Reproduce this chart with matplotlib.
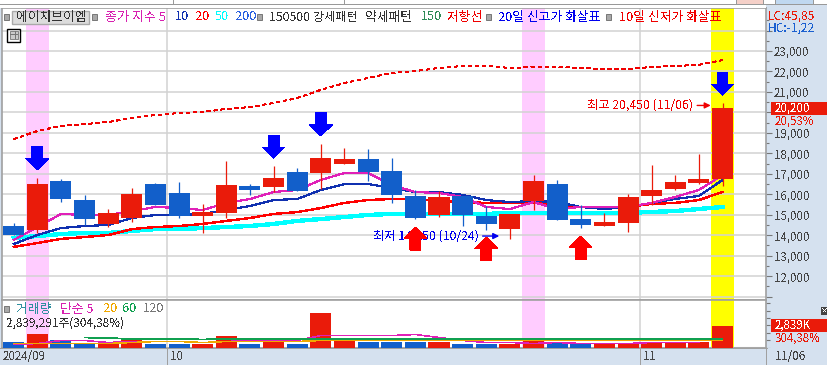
import numpy as np
import matplotlib
matplotlib.use('Agg')
import matplotlib.pyplot as plt
from matplotlib.patches import Rectangle

plt.rcParams['font.family'] = ['Noto Sans CJK KR', 'DejaVu Sans']
plt.rcParams['text.antialiased'] = False

# daily candles
opens = [14450, 14260, 16650, 15720, 14550, 14840, 16500, 16060, 14940, 15090, 16400, 16360, 17090, 17040, 17480, 17720,
         17140, 15920, 14990, 15920, 14940, 14300, 15670, 16500, 14790, 14450, 14600, 15920, 16260, 16550, 16750]
highs = [14600, 16810, 16750, 15970, 15280, 16310, 16550, 16600, 15530, 17630, 16500, 17380, 17290, 18460, 18260, 18210,
         17770, 16210, 16160, 15920, 15430, 15040, 16940, 16700, 15480, 15090, 16020, 17430, 16940, 17970, 20450]
lows = [14010, 14100, 15620, 14500, 14400, 14650, 15480, 14840, 14110, 14840, 15970, 16110, 16160, 16260, 17480, 16650,
        15580, 14790, 14890, 14450, 14250, 13820, 15230, 14740, 14350, 14450, 14160, 15480, 16210, 16500, 16400]
closes = [14010, 16500, 15770, 14790, 15090, 16020, 15480, 14940, 15130, 16450, 16210, 16800, 16160, 17770, 17720, 17090,
          15970, 14840, 15870, 14990, 14550, 15040, 16650, 14740, 14500, 14650, 15870, 16210, 16600, 16750, 20200]

ma5 = [13770, 14400, 15040, 14990, 14990, 15180, 15380, 15330, 15230, 15580, 15770, 16110, 16210, 16700, 17040, 17040,
       16450, 16110, 16060, 15870, 15380, 15280, 15620, 15280, 15380, 15380, 15380, 15580, 15870, 16210, 16940]
ma10 = [13570, 14010, 14350, 14450, 14500, 14840, 14990, 14990, 15040, 15230, 15430, 15720, 15770, 16210, 16500, 16500,
        16310, 16110, 16110, 15970, 15720, 15620, 15670, 15620, 15380, 15280, 15380, 15580, 15770, 15920, 16700]
ma20 = [13430, 13620, 13820, 13910, 14010, 14300, 14400, 14450, 14550, 14700, 14840, 15040, 15130, 15330, 15580, 15720,
        15770, 15770, 15670, 15620, 15580, 15580, 15580, 15480, 15380, 15380, 15380, 15530, 15580, 15720, 16110]
ma50 = [13870, 13960, 14060, 14110, 14110, 14210, 14300, 14300, 14350, 14400, 14450, 14550, 14700, 14790, 14890, 14990,
        15040, 15040, 15040, 15040, 15040, 15090, 15090, 15090, 15090, 15090, 15090, 15140, 15180, 15280, 15380]
resist150 = [18700, 19090, 19340, 19430, 19530, 19730, 19870, 19970, 20020, 20170, 20260, 20460, 20700, 21100, 21440,
             21680, 21930, 22020, 22170, 22270, 22270, 22170, 22220, 22220, 22170, 22120, 22120, 22220, 22270, 22320, 22560]

# volume, thousands of shares
volume = [680, 1890, 950, 540, 410, 950, 540, 540, 540, 1620, 410, 680, 540, 4600, 1350, 810,
          810, 680, 680, 540, 410, 410, 1350, 810, 410, 410, 540, 810, 680, 810, 2839]
vol5 = [405, 540, 945, 945, 675, 810, 810, 810, 675, 810, 945, 945, 945, 1620, 1620, 1620,
        1620, 1755, 1350, 945, 675, 675, 540, 675, 540, 540, 540, 675, 675, 675]
vol20 = [540, 540, 540, 540, 540, 675, 810, 810, 675, 810, 810, 810, 810, 945, 945, 945,
         945, 945, 945, 945, 945, 945, 945, 945, 945, 945, 945, 945, 945, 945, 1000]
vol60 = [1350, 1280, 1150, 1150, 1150, 1080, 1150, 1150, 1150, 1150, 1150, 1150, 1150, 1150, 1150, 1150,
         1150, 1150, 1150, 1150, 1150, 1150, 1150, 1150, 1150, 1150, 1150, 1150]

price_ticks = list(range(11000, 25000, 1000))
price_labels = ['' if p in (11000, 20000, 24000) else f'{p:,}' for p in price_ticks]
pink_days = [1, 22]
yellow_days = [30]
sell_arrows = [(1, 17190), (11, 17770), (13, 18850), (30, 20850)]
buy_arrows = [(17, 14400), (20, 13910), (24, 13960)]
month_breaks = [6.5, 26.5]

RED = '#ea1b0a'
BLUE = '#125fca'
GRID = '#d2d2d2'
EDGE = '#a0a0a0'
STRIP = '#d5e1ef'
W, H = 828, 365

fig = plt.figure(figsize=(W / 100, H / 100), dpi=100, facecolor=STRIP)


def panel(left, top, right, bottom):
    return fig.add_axes([left / W, 1 - bottom / H, (right - left) / W, (bottom - top) / H])


ax = panel(2, 8, 766, 300)
axv = panel(2, 300, 766, 347.5)
x = np.arange(len(closes))

for a in (ax, axv):
    a.set_xlim(-0.495, 31.84)
    a.set_xticks([])
    a.yaxis.tick_right()
    for s in a.spines.values():
        s.set_color(EDGE)
        s.set_linewidth(1.2)
    for d in pink_days:
        a.axvspan(d - 0.5, d + 0.5, color='#ffccff', lw=0, zorder=0)
    for d in yellow_days:
        a.axvspan(d - 0.47, d + 0.47, color='#ffff00', lw=0, zorder=0)
    for m in month_breaks:
        a.axvline(m, color=GRID, lw=1.1, zorder=1)

# price panel
ax.set_ylim(10836, 25100)
ax.set_yticks(price_ticks)
ax.set_yticklabels(price_labels, fontsize=8.3, color='#444444')
ax.set_yticks(np.arange(11500, 25000, 1000), minor=True)
ax.tick_params(axis='y', which='major', length=4.5, width=0.8, color='#777777', pad=1)
ax.tick_params(axis='y', which='minor', length=2, width=0.8, color='#777777')
ax.grid(axis='y', color=GRID, lw=1.1, zorder=1)
ax.set_axisbelow(True)

ax.plot(x, ma50, color='#00ffff', lw=2.4, zorder=2, antialiased=False)
ax.plot(x, ma20, color='#ff0000', lw=1.0, zorder=2.1, antialiased=False)
ax.plot(x, ma10, color='#1030b0', lw=0.85, zorder=2.2, antialiased=False)
ax.plot(x, ma5, color='#e020b8', lw=0.85, zorder=2.3, antialiased=False)
ax.plot(x, resist150, color='#f00000', lw=0.4, dashes=(7, 7), zorder=2, antialiased=False)

for i in x:
    col = RED if closes[i] >= opens[i] else BLUE
    ax.vlines(i, lows[i], highs[i], color=col, lw=0.9, zorder=3)
    ax.bar(i, abs(closes[i] - opens[i]), bottom=min(opens[i], closes[i]), width=0.89, color=col, lw=0, zorder=3.1)


def block_arrow(i, tip, direction, color):
    # direction -1 points down, +1 points up
    head = 11 * 48.85
    total = 23 * 48.85
    xs = [i, i - 0.48, i - 0.23, i - 0.23, i + 0.23, i + 0.23, i + 0.48]
    ys = [tip, tip - direction * head, tip - direction * head, tip - direction * total,
          tip - direction * total, tip - direction * head, tip - direction * head]
    ax.fill(xs, ys, color=color, lw=0, zorder=6, antialiased=False)


ax.annotate('최고 20,450 (11/06)', xy=(29.5, 20340), xytext=(28.75, 20340), color='#f00000', fontsize=8.8,
            ha='right', va='center', zorder=5,
            arrowprops=dict(arrowstyle='-|>', color='#f00000', lw=1, shrinkA=1, shrinkB=0))
ax.annotate('최저 14,250 (10/24)', xy=(20.55, 13960), xytext=(19.67, 13960), color='#0000ee', fontsize=8.8,
            ha='right', va='center', zorder=5,
            arrowprops=dict(arrowstyle='-|>', color='#0000ee', lw=1, shrinkA=1, shrinkB=0))

for i, tip in sell_arrows:
    block_arrow(i, tip, -1, '#0000ff')
for i, tip in buy_arrows:
    block_arrow(i, tip, 1, '#ff0000')

# volume panel
axv.set_ylim(0, 6420)
axv.set_yticks(np.arange(0, 6420, 1000))
axv.set_yticklabels([])
axv.tick_params(axis='y', length=3, width=0.8, color='#777777')
vol_colors = [RED if c >= o else BLUE for o, c in zip(opens, closes)]
axv.bar(x, volume, width=0.89, color=vol_colors, lw=0, zorder=3)
axv.plot(x[:len(vol5)], vol5, color='#e020b8', lw=0.4, zorder=4, antialiased=False)
axv.plot(x, vol20, color='#f0a800', lw=0.4, zorder=4, antialiased=False)
axv.plot(x[3:], vol60, color='#10a050', lw=0.6, zorder=5, antialiased=False)
axv.axhline(135, color=GRID, lw=0.8, zorder=1)

# everything around the panels, in pixels
top = fig.add_axes([0, 0, 1, 1], facecolor='none', zorder=10)
top.set_xlim(0, W)
top.set_ylim(H, 0)
top.axis('off')


def label(px, py, s, color='#333333', size=9.2, ha='left'):
    top.text(px, py, s, color=color, fontsize=size, ha=ha, va='center')


def rect(px, py, w, h, fc, ec='none', lw=0.8):
    top.add_patch(Rectangle((px, py), w, h, facecolor=fc, edgecolor=ec, lw=lw))


# cut off toolbar row
rect(0, 0, W, 4, '#ffffff')
rect(0, 4, W, 1.2, '#999999')
rect(0, 5.2, 766, 3, '#ffffff')
for px in (173, 344, 736, 763, 775, 813):
    rect(px, 0, 1, 4, '#999999')
rect(737, 0, 26, 4, '#f5d0c8')
rect(776, 0, 37, 4, '#c0d8f0')

# legend row
rect(12.5, 10.5, 77, 13.5, '#dcdcdc', '#aaaaaa', 1)
label(16, 17, '에이치브이엠', '#333333', 9.2)
for px in (7, 95, 260, 489, 609):
    rect(px - 2.5, 14, 5, 5.5, '#a8a8a8', '#777777', 0.7)
label(105, 17, '종가 지수 5', '#d820b0', 9.4)
label(175, 17, '10', '#1030b0')
label(195, 17, '20', '#ff0000')
label(215, 17, '50', '#00ffff')
label(235, 17, '200', '#2a60e0')
label(269, 17, '150500 강세패턴', '#333333', 8.8)
label(365, 17, '약세패턴', '#333333')
label(421, 17, '150', '#2e8b57')
label(447, 17, '저항선', '#f00000')
label(498, 17, '20일 신고가 화살표', '#0000ee')
label(619, 17, '10일 신저가 화살표', '#f00000')

# table icon
rect(7.5, 28.5, 13, 13, '#ffffff', '#000000', 1)
rect(10, 31, 8, 8, '#cccccc', '#777777', 0.6)
for px in (12.7, 15.3):
    rect(px, 31, 0.6, 8, '#777777')
rect(10, 34, 8, 0.6, '#777777')

# right strip
label(768, 16, 'LC:45,85', '#ea1b0a', 8.6)
label(768, 28, 'HC:-1,22', '#1a5fd0', 8.6)
rect(771, 102, 57, 13, RED)
label(775, 108, '20,200', '#ffffff', 8.3)
label(775, 121, '20,53%', '#ea1b0a', 8.3)
rect(771, 319, 57, 13, RED)
label(775, 325, '2,839K', '#ffffff', 8.3)
label(775, 338, '304,38%', '#ea1b0a', 8.3)
rect(821, 307, 7, 8, '#444444')
label(824.5, 310.5, '×', '#ffffff', 5.5, 'center')

# volume legend
rect(4.5, 306, 5, 5.5, '#a8a8a8', '#777777', 0.7)
label(16, 309, '거래량', '#2f8f9f')
label(60, 309, '단순 5', '#d820b0')
label(103, 309, '20', '#f0a800')
label(122, 309, '60', '#10a050')
label(143, 309, '120', '#777777')
label(6, 323, '2,839,291주(304,38%)', '#333333', 8.5)

# date strip
rect(0, 348, W, 17, STRIP)
rect(0, 347.5, 768, 1, EDGE)
for px in (167, 640, 766):
    rect(px, 348, 1, 17, EDGE)
label(3, 356, '2024/09', '#444444', 8.3)
label(170, 356, '10', '#444444', 8.3)
label(643, 356, '11', '#444444', 8.3)
label(775, 356, '11/06', '#444444', 8.3)

fig.savefig('out.png', dpi=100, facecolor=fig.get_facecolor())
